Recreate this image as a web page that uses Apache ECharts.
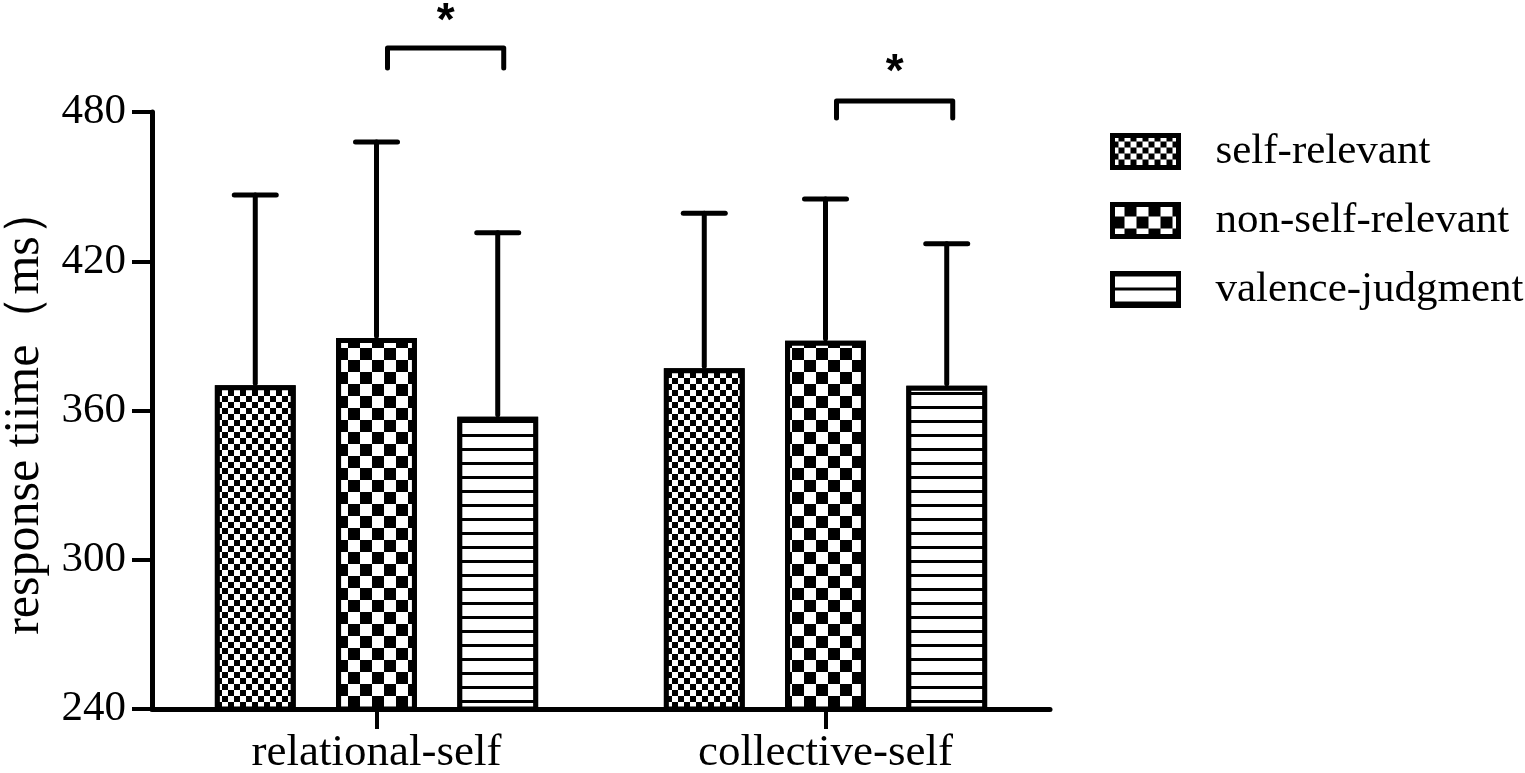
<!DOCTYPE html>
<html>
<head>
<meta charset="utf-8">
<script src="https://cdn.jsdelivr.net/npm/echarts@6/dist/echarts.min.js"></script>
<style>
  html, body { margin: 0; padding: 0; background: #fff; }
  #main { width: 1525px; height: 773px; }
</style>
</head>
<body>
<div id="main"></div>
<script>
const categories = ['relational-self', 'collective-self']
const seriesNames = ['self-relevant', 'non-self-relevant', 'valence-judgment']
// mean response time per condition
const selfRelevant = [370.2, 377]
const nonSelfRelevant = [389.1, 388]
const valenceJudgment = [357.5, 370]
// top of the error bar (mean + SD)
const selfRelevantErr = [446.6, 439.3]
const nonSelfRelevantErr = [467.9, 445]
const valenceJudgmentErr = [431.5, 427]
const yTicks = [240, 300, 360, 420, 480]
// [category, left bar, right bar, bracket top, leg bottom, star]
const sigBrackets = [
  [0, 1, 2, 505.7, 497.7, 516],
  [1, 1, 2, 484.4, 477.6, 495.5]
]

const means = [selfRelevant, nonSelfRelevant, valenceJudgment]
const errs = [selfRelevantErr, nonSelfRelevantErr, valenceJudgmentErr]

const FONT = '"Liberation Serif", "Times New Roman", serif'
const CAT_GAP = 0.28  // barCategoryGap
const BAR_GAP = 0.5   // barGap

// patterns
const decals = [
  { symbol: 'rect', symbolSize: 1, color: '#000', backgroundColor: '#fff',
    dashArrayX: [[6, 6], [0, 6, 6, 0]], dashArrayY: [6, 0] },
  { symbol: 'rect', symbolSize: 1, color: '#000', backgroundColor: '#fff',
    dashArrayX: [[12, 12], [0, 12, 12, 0]], dashArrayY: [12, 0] },
  { symbol: 'rect', symbolSize: 1, color: '#000', backgroundColor: '#fff',
    dashArrayX: [1, 0], dashArrayY: [3, 11] }
]

// bar center offset (px) inside a category band
function barOffset(api, idx) {
  const band = api.size([1, 0])[0]
  const w = band * (1 - CAT_GAP) / (3 + 2 * BAR_GAP)
  return (idx - 1) * w * (1 + BAR_GAP)
}

const chart = echarts.init(document.getElementById('main'))

const barSeries = seriesNames.map((name, i) => ({
  name: name,
  type: 'bar',
  barGap: (BAR_GAP * 100) + '%',
  barCategoryGap: (CAT_GAP * 100) + '%',
  itemStyle: {
    color: '#fff',
    borderColor: '#000',
    borderWidth: 5,
    decal: decals[i]
  },
  emphasis: { disabled: true },
  data: means[i],
  z: 2
}))

const errSeries = {
  type: 'custom',
  silent: true,
  z: 3,
  data: [].concat(...seriesNames.map((n, i) => categories.map((c, k) => [k, means[i][k], errs[i][k], i]))),
  renderItem: function (params, api) {
    const off = barOffset(api, api.value(3))
    const lo = api.coord([api.value(0), api.value(1)])
    const hi = api.coord([api.value(0), api.value(2)])
    const x = lo[0] + off
    const style = { stroke: '#000', lineWidth: 5, lineCap: 'round' }
    return {
      type: 'group',
      children: [
        { type: 'line', shape: { x1: x, y1: lo[1] - 2, x2: x, y2: hi[1] }, style: style },
        { type: 'line', shape: { x1: x - 21, y1: hi[1], x2: x + 21, y2: hi[1] }, style: style }
      ]
    }
  }
}

const sigSeries = {
  type: 'custom',
  silent: true,
  clip: false,
  data: sigBrackets,
  renderItem: function (params, api) {
    const k = api.value(0)
    const xl = api.coord([k, 0])[0] + barOffset(api, api.value(1)) + 11
    const xr = api.coord([k, 0])[0] + barOffset(api, api.value(2)) + 6
    const yTop = api.coord([k, api.value(3)])[1]
    const yLeg = api.coord([k, api.value(4)])[1]
    const yStar = api.coord([k, api.value(5)])[1]
    return {
      type: 'group',
      children: [
        { type: 'polyline', shape: { points: [[xl, yLeg], [xl, yTop], [xr, yTop], [xr, yLeg]] },
          style: { stroke: '#000', lineWidth: 5, fill: null, lineCap: 'round', lineJoin: 'round' } },
        { type: 'text', x: (xl + xr) / 2, y: yStar,
          style: { text: '*', font: 'bold 46px "Liberation Sans", Arial, sans-serif',
            fill: '#000', align: 'center', verticalAlign: 'middle' } }
      ]
    }
  }
}

chart.setOption({
  animation: false,
  backgroundColor: '#fff',
  grid: { left: 152, right: 475, top: 112, bottom: 64, outerBoundsMode: 'none', containLabel: false },
  legend: {
    orient: 'vertical',
    left: 1105,
    top: 125,
    itemWidth: 66,
    itemHeight: 32,
    itemGap: 26,
    icon: 'rect',
    selectedMode: false,
    data: seriesNames,
    itemStyle: { borderColor: '#000', borderWidth: 5 },
    textStyle: { fontFamily: FONT, fontSize: 43, lineHeight: 40, color: '#000', padding: [0, 0, 0, 32] }
  },
  xAxis: {
    type: 'category',
    data: categories,
    axisLine: { lineStyle: { color: '#000', width: 5 } },
    axisTick: { show: true, inside: false, alignWithLabel: true, length: 20, lineStyle: { color: '#000', width: 4 } },
    axisLabel: { fontFamily: FONT, fontSize: 45, color: '#000', margin: 22 }
  },
  yAxis: {
    type: 'value',
    min: yTicks[0],
    max: yTicks[yTicks.length - 1],
    interval: yTicks[1] - yTicks[0],
    name: 'response tiime（ms）',
    nameLocation: 'middle',
    nameGap: 102,
    nameTextStyle: { fontFamily: FONT, fontSize: 50, color: '#000' },
    splitLine: { show: false },
    axisLine: { show: true, lineStyle: { color: '#000', width: 5 } },
    axisTick: { show: true, inside: false, length: 20, lineStyle: { color: '#000', width: 4 } },
    axisLabel: { fontFamily: FONT, fontSize: 43, color: '#000', margin: 26 }
  },
  series: barSeries.concat([errSeries, sigSeries])
})
</script>
</body>
</html>
